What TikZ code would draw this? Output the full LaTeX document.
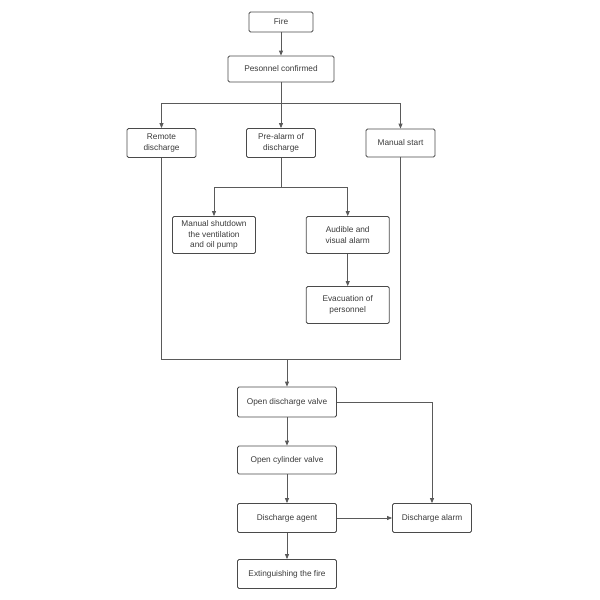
\documentclass[tikz,border=0pt]{standalone}
\usepackage{fontspec}
\setmainfont{Liberation Sans}
\usetikzlibrary{arrows.meta}
\definecolor{boxc}{HTML}{4A4A4A}
\definecolor{linec}{HTML}{5A5A5A}
\definecolor{txtc}{HTML}{3A3A3A}
\begin{document}
\begin{tikzpicture}[x=1pt,y=-1pt,
  box/.style={draw=boxc, line width=0.8pt, rounded corners=1.5pt, align=center,
    font=\fontsize{8.3}{10.7}\selectfont, text=txtc, inner sep=0pt},
  arr/.style={draw=linec, line width=0.8pt, -{Triangle[length=5pt,width=4pt]}},
  ln/.style={draw=linec, line width=0.8pt}]
\useasboundingbox (0,0) rectangle (600,600);

\node[box, minimum width=64pt, minimum height=20pt] (fire) at (281,22) {Fire};
\node[box, minimum width=106pt, minimum height=26pt] (conf) at (281,69) {Pesonnel confirmed};
\node[box, minimum width=69pt, minimum height=29pt] (remote) at (161.5,143) {Remote\\discharge};
\node[box, minimum width=69pt, minimum height=29pt] (pre) at (281,143) {Pre-alarm of\\discharge};
\node[box, minimum width=69pt, minimum height=28pt] (manual) at (400.5,143) {Manual start};
\node[box, minimum width=83pt, minimum height=37pt] (shut) at (214,235) {Manual shutdown\\the ventilation\\and oil pump};
\node[box, minimum width=83pt, minimum height=37pt] (aud) at (347.7,235) {Audible and\\visual alarm};
\node[box, minimum width=83pt, minimum height=37pt] (evac) at (347.7,305) {Evacuation of\\personnel};
\node[box, minimum width=99pt, minimum height=30pt] (odv) at (287,402) {Open discharge valve};
\node[box, minimum width=99pt, minimum height=28pt] (ocv) at (287,460) {Open cylinder valve};
\node[box, minimum width=99pt, minimum height=29pt] (agent) at (287,518) {Discharge agent};
\node[box, minimum width=79pt, minimum height=29pt] (alarm) at (432,518) {Discharge alarm};
\node[box, minimum width=99pt, minimum height=29pt] (ext) at (287,574) {Extinguishing the fire};

\coordinate (b1) at (281,103);
\coordinate (b2) at (281,187);
\coordinate (m) at (287,359);

\draw[arr] (fire) -- (conf);
\draw[ln] (conf) -- (b1);
\draw[arr] (b1) -| (remote);
\draw[arr] (b1) -- (pre);
\draw[arr] (b1) -| (manual);
\draw[ln] (pre) -- (b2);
\draw[arr] (b2) -| (shut);
\draw[arr] (b2) -| (aud);
\draw[arr] (aud) -- (evac);
\draw[ln] (remote) |- (m);
\draw[ln] (manual) |- (m);
\draw[arr] (m) -- (odv);
\draw[arr] (odv) -- (ocv);
\draw[arr] (ocv) -- (agent);
\draw[arr] (agent) -- (ext);
\draw[arr] (agent) -- (alarm);
\draw[arr] (odv.east) -| (alarm);
\end{tikzpicture}
\end{document}
